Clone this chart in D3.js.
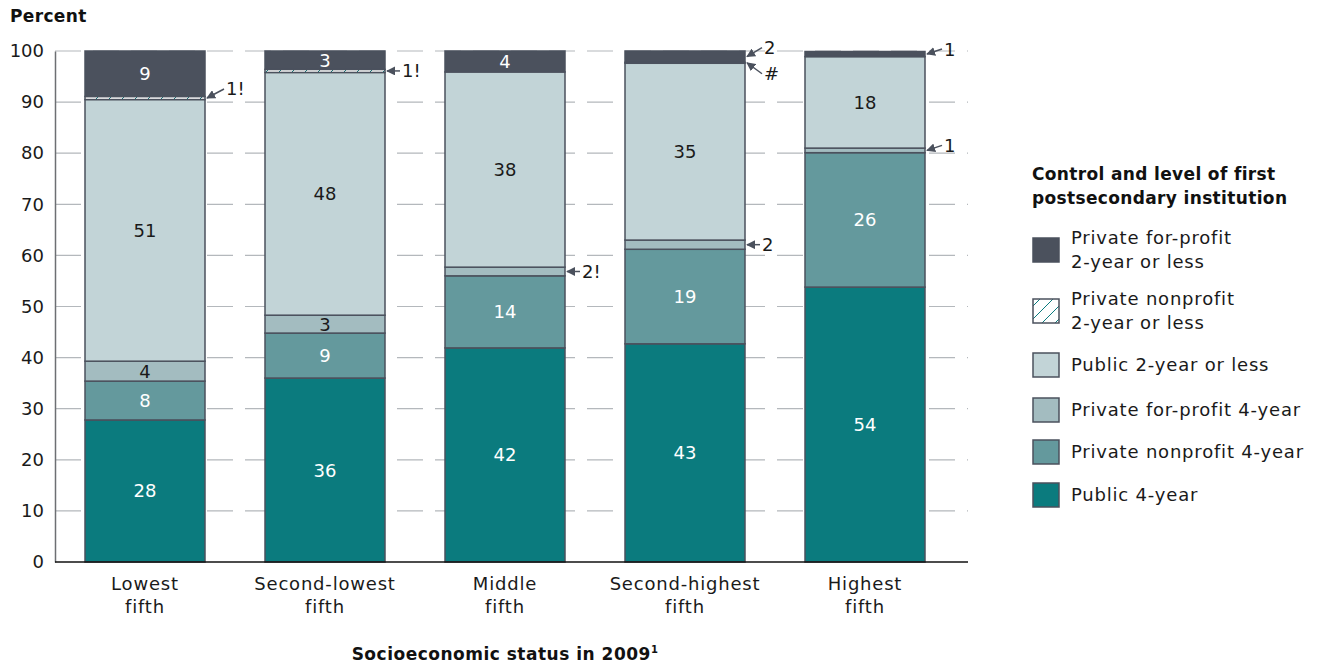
<!DOCTYPE html>
<html>
<head>
<meta charset="utf-8">
<script src="https://cdn.jsdelivr.net/npm/d3@7"></script>
<style>
  html, body { margin: 0; padding: 0; background: #ffffff; }
  svg { display: block; font-family: "DejaVu Sans", sans-serif; }
  .reg { font-size: 18px; letter-spacing: 0.8px; fill: #1a1a1a; }
  .bold { font-size: 17px; font-weight: bold; letter-spacing: 0.35px; fill: #111; }
</style>
</head>
<body>
<svg id="chart" width="1317" height="663"></svg>
<script>
// ---- Data ----
const categories = ["Lowest|fifth", "Second-lowest|fifth", "Middle|fifth", "Second-highest|fifth", "Highest|fifth"];
const seriesNames = [
  "Public 4-year",
  "Private nonprofit 4-year",
  "Private for-profit 4-year",
  "Public 2-year or less",
  "Private nonprofit 2-year or less",
  "Private for-profit 2-year or less"
];
const public4 = [27.8, 36.0, 41.9, 42.7, 53.8];
const nonprofit4 = [7.6, 8.8, 14.1, 18.5, 26.3];
const forprofit4 = [3.9, 3.5, 1.7, 1.8, 0.9];
const public2 = [51.2, 47.5, 38.2, 34.6, 17.9];
const nonprofit2 = [0.6, 0.6, 0, 0.2, 0];
const forprofit2 = [8.9, 3.6, 4.1, 2.2, 1.0];

const labPublic4 = ["28", "36", "42", "43", "54"];
const labNonprofit4 = ["8", "9", "14", "19", "26"];
const labForprofit4 = ["4", "3", "2!", "2", "1"];
const labPublic2 = ["51", "48", "38", "35", "18"];
const labNonprofit2 = ["1!", "1!", "", "#", ""];
const labForprofit2 = ["9", "3", "4", "2", "1"];

const yTicks = [0, 10, 20, 30, 40, 50, 60, 70, 80, 90, 100];

// ---- Styling ----
const colors = ["#0b7b7e", "#64999d", "#a3bcc0", "#c2d4d7", "url(#hatch)", "#4b515d"];
const textColors = ["#ffffff", "#ffffff", "#1a1a1a", "#1a1a1a", "#1a1a1a", "#ffffff"];
const strokeColor = "#4b515d";

const svg = d3.select("#chart");
const defs = svg.append("defs");
const pat = defs.append("pattern")
  .attr("id", "hatch").attr("patternUnits", "userSpaceOnUse")
  .attr("width", 13).attr("height", 13);
pat.append("rect").attr("width", 13).attr("height", 13).attr("fill", "#ffffff");
pat.append("path").attr("d", "M-2,15 L15,-2").attr("stroke", "#0b7b7e").attr("stroke-width", 1);

const x = d3.scaleBand().domain(categories).range([55, 955]).paddingInner(1/3).paddingOuter(1/6);
const y = d3.scaleLinear().domain([0, 100]).range([562, 51]);

// grid
const gridRight = 968;
svg.append("g").selectAll("line").data(yTicks.filter(d => d > 0)).join("line")
  .attr("x1", 55).attr("x2", gridRight)
  .attr("y1", d => y(d)).attr("y2", d => y(d))
  .attr("stroke", "#b4b8bc").attr("stroke-width", 1.2)
  .attr("stroke-dasharray", "26,12");

// y axis
const yAxis = d3.axisLeft(y).tickValues(yTicks).tickSize(0).tickPadding(11);
const gy = svg.append("g").attr("transform", "translate(55,0)").call(yAxis);
gy.select(".domain").attr("stroke", "#6d6f73").attr("stroke-width", 1.5);
gy.selectAll("text").attr("font-size", 18).attr("fill", "#1a1a1a").attr("font-family", "DejaVu Sans");

// stacked data
const seriesArrays = [public4, nonprofit4, forprofit4, public2, nonprofit2, forprofit2];
const labelArrays = [labPublic4, labNonprofit4, labForprofit4, labPublic2, labNonprofit2, labForprofit2];
const table = categories.map((c, i) => {
  const row = { cat: c };
  seriesNames.forEach((s, k) => row[s] = seriesArrays[k][i]);
  return row;
});
const stacked = d3.stack().keys(seriesNames)(table);

const gBars = svg.append("g");
stacked.forEach((layer, k) => {
  gBars.append("g").selectAll("rect").data(layer.filter(d => d[1] - d[0] > 0)).join("rect")
    .attr("x", d => x(d.data.cat))
    .attr("width", x.bandwidth())
    .attr("y", d => y(d[1]))
    .attr("height", d => y(d[0]) - y(d[1]))
    .attr("fill", colors[k])
    .attr("stroke", strokeColor).attr("stroke-width", 1.5);
});

// x axis
svg.append("line")
  .attr("x1", 55).attr("x2", gridRight).attr("y1", y(0)).attr("y2", y(0))
  .attr("stroke", "#111").attr("stroke-width", 1.6);

// category labels
const gx = svg.append("g");
categories.forEach(c => {
  const parts = c.split("|");
  const t = gx.append("text").attr("class", "reg").attr("text-anchor", "middle");
  parts.forEach((p, i) => {
    t.append("tspan").attr("x", x(c) + x.bandwidth() / 2).attr("y", 590 + i * 23).text(p);
  });
});

// arrow marker
const defsArrow = defs.append("marker").attr("id", "arr").attr("viewBox", "0 0 10 10")
  .attr("refX", 9).attr("refY", 5).attr("markerWidth", 9).attr("markerHeight", 9)
  .attr("markerUnits", "userSpaceOnUse").attr("orient", "auto");
defsArrow.append("path").attr("d", "M0,0 L10,5 L0,10 z").attr("fill", "#4b515d");

// callout offsets: [layerIndex, catIndex, dxText, dyText]
const callouts = [
  [4, 0, 22, -9],
  [4, 1, 18, 0],
  [2, 2, 18, 0],
  [5, 3, 20, -9],
  [4, 3, 20, 11],
  [2, 3, 18, 0],
  [5, 4, 20, -5],
  [2, 4, 20, -5]
];
const isCallout = (k, i) => callouts.some(c => c[0] === k && c[1] === i);

const gLab = svg.append("g");
stacked.forEach((layer, k) => {
  layer.forEach((d, i) => {
    const lab = labelArrays[k][i];
    if (!lab || isCallout(k, i)) return;
    gLab.append("text")
      .attr("x", x(d.data.cat) + x.bandwidth() / 2)
      .attr("y", (y(d[0]) + y(d[1])) / 2)
      .attr("dy", "0.36em")
      .attr("text-anchor", "middle")
      .attr("font-size", 18)
      .attr("fill", textColors[k])
      .text(lab);
  });
});

callouts.forEach(([k, i, dx, dy]) => {
  const d = stacked[k][i];
  const tx = x(d.data.cat) + x.bandwidth() + 1;
  const ty = (y(d[0]) + y(d[1])) / 2;
  const lx = tx + dx, ly = ty + dy;
  gLab.append("line")
    .attr("x1", lx - 4).attr("y1", ly).attr("x2", tx + 1).attr("y2", ty)
    .attr("stroke", "#4b515d").attr("stroke-width", 1.5)
    .attr("marker-end", "url(#arr)");
  gLab.append("text")
    .attr("x", lx - 2).attr("y", ly).attr("dy", "0.36em")
    .attr("font-size", 18).attr("fill", "#1a1a1a")
    .text(labelArrays[k][i]);
});

// titles
svg.append("text").attr("class", "bold").attr("x", 10).attr("y", 22).text("Percent");

const xt = svg.append("text").attr("class", "bold").attr("x", 505).attr("y", 660).attr("text-anchor", "middle")
  .style("letter-spacing", "0.5px");
xt.append("tspan").text("Socioeconomic status in 2009");
xt.append("tspan").attr("font-size", 10).attr("dy", -7).text("1");

// legend
const lg = svg.append("g");
lg.append("text").attr("class", "bold").attr("x", 1032).attr("y", 180).text("Control and level of first");
lg.append("text").attr("class", "bold").attr("x", 1032).attr("y", 204).text("postsecondary institution");

const legendItems = [
  { k: 5, lines: ["Private for-profit", "2-year or less"], cy: 250 },
  { k: 4, lines: ["Private nonprofit", "2-year or less"], cy: 311 },
  { k: 3, lines: ["Public 2-year or less"], cy: 365 },
  { k: 2, lines: ["Private for-profit 4-year"], cy: 410 },
  { k: 1, lines: ["Private nonprofit 4-year"], cy: 452 },
  { k: 0, lines: ["Public 4-year"], cy: 495 }
];
legendItems.forEach(it => {
  lg.append("rect").attr("x", 1033).attr("y", it.cy - 12).attr("width", 26).attr("height", 24)
    .attr("fill", colors[it.k]).attr("stroke", strokeColor).attr("stroke-width", 1.5);
  const n = it.lines.length;
  it.lines.forEach((ln, j) => {
    lg.append("text").attr("class", "reg").attr("x", 1071).attr("y", it.cy + (j - (n - 1) / 2) * 24)
      .attr("dy", "0.36em").text(ln);
  });
});
</script>
</body>
</html>
